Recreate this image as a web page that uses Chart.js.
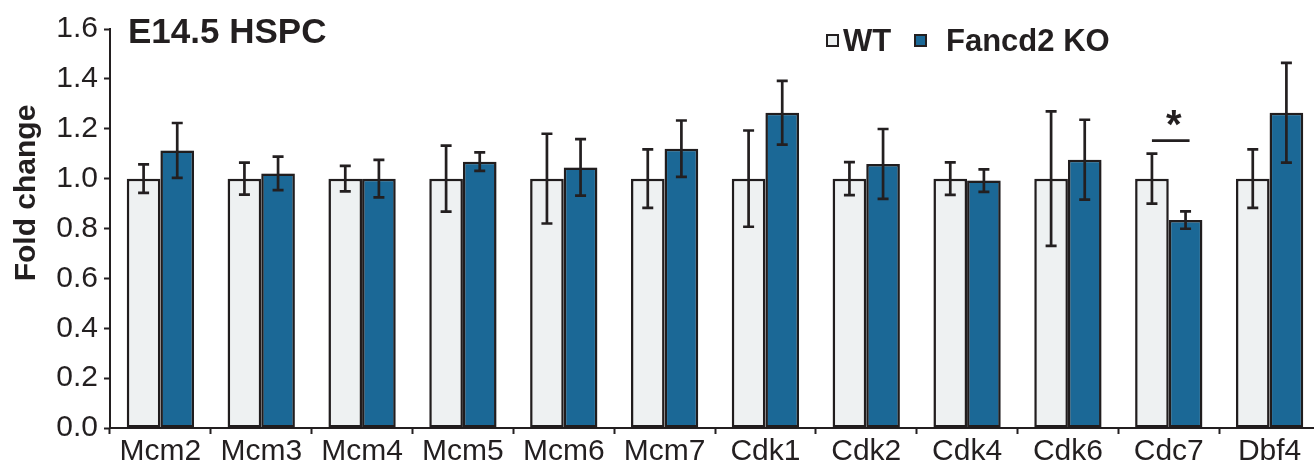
<!DOCTYPE html>
<html>
<head>
<meta charset="utf-8">
<script src="https://cdn.jsdelivr.net/npm/chart.js@4/dist/chart.umd.min.js"></script>
<style>
  html, body { margin: 0; padding: 0; background: #fff; overflow: hidden; }
  #wrap { width: 1322px; height: 464px; }
</style>
</head>
<body>
<div id="wrap"><canvas id="myChart" width="1322" height="464"></canvas></div>
<script>
var genes = ['Mcm2', 'Mcm3', 'Mcm4', 'Mcm5', 'Mcm6', 'Mcm7', 'Cdk1', 'Cdk2', 'Cdk4', 'Cdk6', 'Cdc7', 'Dbf4'];
var wtValues = [1, 1, 1, 1, 1, 1, 1, 1, 1, 1, 1, 1];
var wtErrors = [0.057, 0.064, 0.051, 0.132, 0.18, 0.117, 0.193, 0.066, 0.065, 0.27, 0.10, 0.117];
var koValues = [1.113, 1.021, 1.0, 1.068, 1.045, 1.12, 1.264, 1.059, 0.992, 1.076, 0.834, 1.264];
var koErrors = [0.11, 0.067, 0.075, 0.037, 0.113, 0.113, 0.128, 0.14, 0.045, 0.16, 0.035, 0.2];
var yTicks = [0, 0.2, 0.4, 0.6, 0.8, 1.0, 1.2, 1.4, 1.6];
var sigGene = 'Cdc7';
var sigLevel = 1.152;

var ink = '#231f20';
var fontName = '"Liberation Sans", Arial, Helvetica, sans-serif';

// error bars, significance mark, title, legend, y title
var extras = {
  id: 'extras',
  beforeDatasetsDraw: function(chart) {
    var c = chart.ctx;
    c.save();
    c.shadowColor = 'rgba(0,0,0,0.22)';
    c.shadowBlur = 4;
  },
  afterDatasetsDraw: function(chart) {
    chart.ctx.restore();
    var c = chart.ctx;
    var y = chart.scales.y;
    var errs = [wtErrors, koErrors];
    c.save();
    c.strokeStyle = ink;
    c.lineWidth = 2.7;
    chart.data.datasets.forEach(function(ds, di) {
      var meta = chart.getDatasetMeta(di);
      meta.data.forEach(function(bar, i) {
        var v = ds.data[i];
        var top = y.getPixelForValue(v + errs[di][i]);
        var bot = y.getPixelForValue(v - errs[di][i]);
        c.beginPath();
        c.moveTo(bar.x, top); c.lineTo(bar.x, bot);
        c.moveTo(bar.x - 5.5, top); c.lineTo(bar.x + 5.5, top);
        c.moveTo(bar.x - 5.5, bot); c.lineTo(bar.x + 5.5, bot);
        c.stroke();
      });
    });

    // significance
    var si = genes.indexOf(sigGene);
    var b0 = chart.getDatasetMeta(0).data[si];
    var b1 = chart.getDatasetMeta(1).data[si];
    var ly = y.getPixelForValue(sigLevel);
    c.lineWidth = 2.7;
    c.beginPath();
    c.moveTo(b0.x, ly); c.lineTo(b1.x + 4, ly);
    c.stroke();
    c.fillStyle = ink;
    c.font = 'bold 40px ' + fontName;
    c.textAlign = 'center';
    c.textBaseline = 'alphabetic';
    c.fillText('*', (b0.x + b1.x) / 2 + 5, ly - 3);

    // title
    c.font = 'bold 35px ' + fontName;
    c.textAlign = 'left';
    c.fillText('E14.5 HSPC', 128, 43);

    // legend
    var items = [
      { x: 827, tx: 843, ds: chart.data.datasets[0] },
      { x: 915, tx: 946, ds: chart.data.datasets[1] }
    ];
    c.font = 'bold 31px ' + fontName;
    items.forEach(function(it) {
      c.fillStyle = it.ds.backgroundColor;
      c.fillRect(it.x, 35, 11, 11);
      c.lineWidth = 2;
      c.strokeRect(it.x, 35, 11, 11);
      c.fillStyle = ink;
      c.fillText(it.ds.label, it.tx, 51);
    });

    // y title
    c.translate(27, 193);
    c.rotate(-Math.PI / 2);
    c.textAlign = 'center';
    c.textBaseline = 'middle';
    c.font = 'bold 30px ' + fontName;
    c.fillText('Fold change', 0, 0);
    c.restore();
  }
};

var ctx = document.getElementById('myChart').getContext('2d');
var myChart = new Chart(ctx, {
  type: 'bar',
  data: {
    labels: genes,
    datasets: [{
      label: 'WT',
      data: wtValues,
      backgroundColor: '#eef1f2',
      borderColor: ink,
      borderWidth: 2.5,
      borderSkipped: false
    }, {
      label: 'Fancd2 KO',
      data: koValues,
      backgroundColor: '#1b6896',
      borderColor: ink,
      borderWidth: 2.5,
      borderSkipped: false
    }]
  },
  options: {
    responsive: false,
    animation: false,
    layout: { padding: { top: 29, right: 2, left: 0, bottom: 0 } },
    datasets: { bar: { categoryPercentage: 0.667, barPercentage: 1.0 } },
    plugins: {
      legend: { display: false },
      tooltip: { enabled: false }
    },
    scales: {
      x: {
        offset: true,
        grid: { offset: true, drawOnChartArea: false, tickLength: 6, tickColor: ink, tickWidth: 2 },
        border: { color: ink, width: 2 },
        ticks: { color: ink, font: { family: fontName, size: 30 }, padding: 0, maxRotation: 0 },
        afterFit: function(s) { s.height = 36; }
      },
      y: {
        min: 0,
        max: 1.6,
        afterBuildTicks: function(s) { s.ticks = yTicks.map(function(v) { return { value: v }; }); },
        grid: { drawOnChartArea: false, tickLength: 6, tickColor: ink, tickWidth: 2 },
        border: { color: ink, width: 2 },
        ticks: {
          color: ink,
          font: { family: fontName, size: 30 },
          padding: 6,
          callback: function(v) { return v.toFixed(1); }
        },
        afterFit: function(s) { s.width = 110; }
      }
    }
  },
  plugins: [extras]
});
</script>
</body>
</html>
